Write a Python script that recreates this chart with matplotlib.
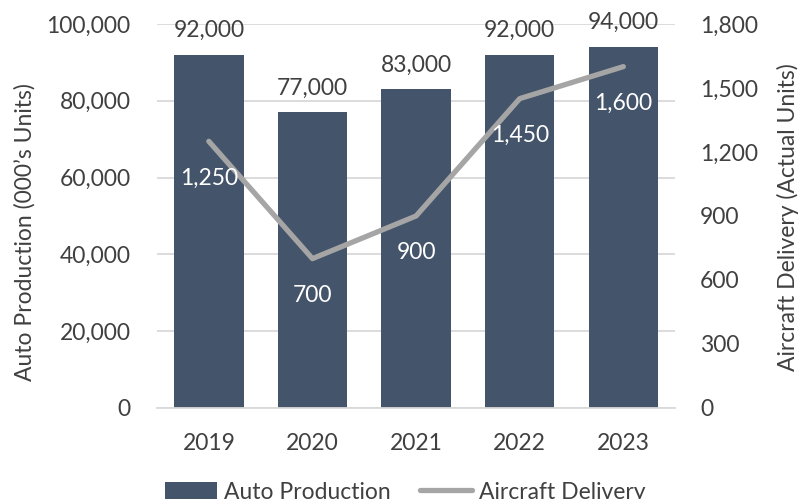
import matplotlib
matplotlib.use("Agg")
import matplotlib.pyplot as plt
from matplotlib.ticker import FuncFormatter, MultipleLocator

years = ["2019", "2020", "2021", "2022", "2023"]
auto_production = [92000, 77000, 83000, 92000, 94000]
aircraft_delivery = [1250, 700, 900, 1450, 1600]

BAR = "#44546A"
LINE = "#A5A5A5"
TXT = "#404040"
GRID = "#D9D9D9"
FS = 16.5

plt.rcParams["font.family"] = ["Lato", "DejaVu Sans"]

fig = plt.figure(figsize=(7.99, 4.99), dpi=100)
ax = fig.add_axes([0.1965, 0.1824, 0.6485, 0.7696])
ax2 = ax.twinx()

x = list(range(len(years)))
bars = ax.bar(x, auto_production, width=0.67, color=BAR, zorder=2,
              label="Auto Production")
ax.set_ylim(0, 100000)
ax.set_xlim(-0.5, len(years) - 0.5)
ax.yaxis.set_major_locator(MultipleLocator(20000))
ax.yaxis.set_major_formatter(FuncFormatter(lambda v, p: f"{v:,.0f}"))
ax.grid(axis="y", color=GRID, linewidth=1.3, zorder=0)
ax.set_axisbelow(True)
ax.set_xticks(x)
ax.set_xticklabels(years)

for b, v in zip(bars, auto_production):
    ax.annotate(f"{v:,}", (b.get_x() + b.get_width() / 2, v),
                xytext=(0, 10), textcoords="offset points",
                ha="center", va="bottom", fontsize=FS, color=TXT)

line, = ax2.plot(x, aircraft_delivery, color=LINE, linewidth=3.8,
                 solid_capstyle="round", zorder=3, label="Aircraft Delivery")
ax2.set_ylim(0, 1800)
ax2.yaxis.set_major_locator(MultipleLocator(300))
ax2.yaxis.set_major_formatter(FuncFormatter(lambda v, p: f"{v:,.0f}"))

for xi, v in zip(x, aircraft_delivery):
    ax2.annotate(f"{v:,}", (xi, v), xytext=(0, -26.5), textcoords="offset points",
                 ha="center", va="center", fontsize=FS, color="white", zorder=4)

for a in (ax, ax2):
    for s in a.spines.values():
        s.set_visible(False)
    a.tick_params(length=0, labelsize=FS, colors=TXT)
ax.spines["bottom"].set_visible(True)
ax.spines["bottom"].set_color(GRID)
ax.spines["bottom"].set_linewidth(1.3)
ax.tick_params(axis="y", pad=19)
ax.tick_params(axis="x", pad=18)
ax2.tick_params(axis="y", pad=18)

ax.set_ylabel("Auto Production (000\u2019s Units)", fontsize=FS, color=TXT)
ax.yaxis.set_label_coords(-0.235, 0.458)
ax2.set_ylabel("Aircraft Delivery (Actual Units)", fontsize=FS, color=TXT,
               rotation=90)
ax2.yaxis.set_label_coords(1.197, 0.497)

fig.legend([bars, line], ["Auto Production", "Aircraft Delivery"],
           loc="center", bbox_to_anchor=(0.507, 0.014), ncol=2, frameon=False,
           fontsize=FS, handlelength=2.25, handletextpad=0.3, columnspacing=1.3,
           labelcolor=TXT, borderpad=0)

fig.savefig("out.png", dpi=100)
